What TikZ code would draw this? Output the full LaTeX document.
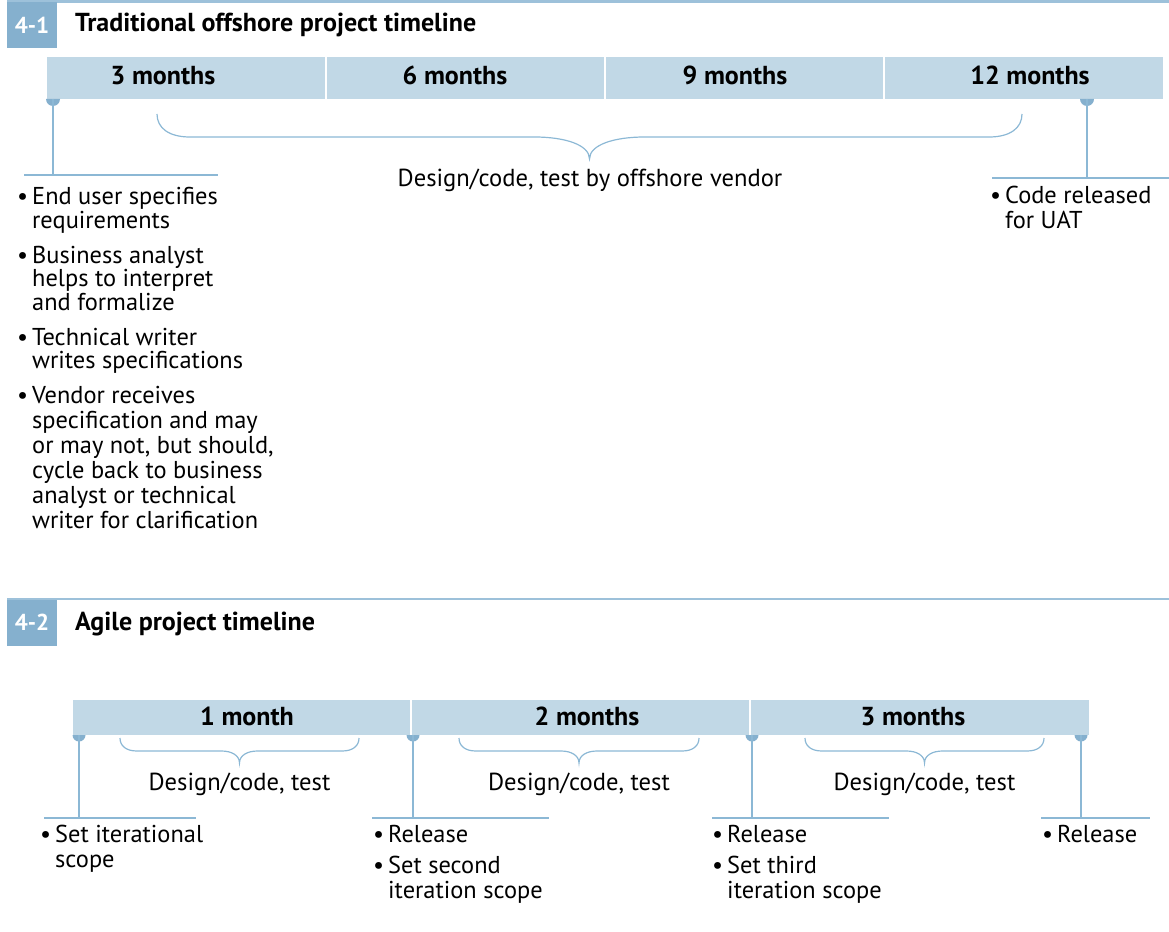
\documentclass[tikz,border=0pt]{standalone}
\usepackage{fontspec}
\setmainfont{PT Sans}
\definecolor{barfill}{HTML}{C1D8E6}
\definecolor{accent}{HTML}{85B0CE}
\definecolor{lineblue}{HTML}{8CB8D5}
\definecolor{topline}{HTML}{9DC1DA}
\newcommand\blk[2]{{\fontsize{24.4}{#1}\selectfont\begin{tabular}[t]{@{}l@{}}#2\end{tabular}}}
\newcommand\bul{\llap{\textbullet\hspace{4pt}}}
\newcommand\tlbrace[7]{%
 \draw[bracep] (#1,#3) .. controls (#1,{#3+0.6*(#4-#3)}) and ({#1+0.35*#6},#4) .. ({#1+#6},#4)
 -- ({(#1+#2)/2-#7},#4) .. controls ({(#1+#2)/2-0.45*#7},#4) and ({(#1+#2)/2},{#4+0.35*(#5-#4)}) .. ({(#1+#2)/2},#5)
 .. controls ({(#1+#2)/2},{#4+0.35*(#5-#4)}) and ({(#1+#2)/2+0.45*#7},#4) .. ({(#1+#2)/2+#7},#4)
 -- ({#2-#6},#4) .. controls ({#2-0.35*#6},#4) and (#2,{#3+0.6*(#4-#3)}) .. (#2,#3);}
\tikzset{
 conn/.style={draw=lineblue, line width=1.3pt},
 bracep/.style={draw=lineblue, line width=1.2pt},
 sep/.style={draw=white, line width=2pt},
 lbl/.style={font=\fontsize{26}{30}\selectfont\bfseries, inner sep=0, anchor=base},
 txt/.style={inner sep=0, anchor=base west},
 ctxt/.style={inner sep=0, anchor=base, font=\fontsize{24.6}{28}\selectfont},
 hdr/.style={fill=accent, text=white, font=\fontsize{23}{26}\selectfont\bfseries, inner sep=0, minimum width=50pt, minimum height=46pt},
 ttl/.style={font=\fontsize{26}{30}\selectfont\bfseries, inner sep=0, anchor=base west},
 marker/.style={fill=accent},
}
\begin{document}
\begin{tikzpicture}[x=1pt,y=-1pt]
\useasboundingbox (0,0) rectangle (1169,931);
% ---------- Section 4-1 ----------
\draw[topline, line width=3pt] (7,1.5) -- (1169,1.5);
\node[hdr] (h1) at (32,25) {4-1};
\node[ttl] (t1) at (75,32) {Traditional offshore project timeline};
\fill[barfill] (47,57) rectangle (1163,99);
\draw[sep] (326,57) -- (326,99);
\draw[sep] (605,57) -- (605,99);
\draw[sep] (884,57) -- (884,99);
\node[lbl] (m3) at (163,85) {3 months};
\node[lbl] (m6) at (455,85) {6 months};
\node[lbl] (m9) at (735,85) {9 months};
\node[lbl] (m12) at (1030,85) {12 months};
\coordinate (k1) at (53,99);
\coordinate (k1e) at (53,175);
\coordinate (k1l) at (24,175);
\coordinate (k1r) at (218,175);
\fill[marker] (46,99) arc (180:0:7) -- cycle;
\draw[conn] (k1) -- (k1e);
\draw[conn] (k1l) -- (k1r);
\coordinate (k2) at (1087,99);
\coordinate (k2e) at (1087,178);
\coordinate (k2l) at (992,178);
\coordinate (k2r) at (1169,178);
\fill[marker] (1080,99) arc (180:0:7) -- cycle;
\draw[conn] (k2) -- (k2e);
\draw[conn] (k2l) -- (k2r);
\tlbrace{157}{1022}{114}{137}{159}{33}{55}
\node[ctxt] (d1) at (590,186) {Design/code, test by offshore vendor};
\node[txt] (b11) at (32,204) {\blk{24}{\bul End user specifies\\requirements}};
\node[txt] (b12) at (32,263) {\blk{22}{\bul Business analyst\\helps to interpret\\and formalize}};
\node[txt] (b13) at (32,345) {\blk{22}{\bul Technical writer\\writes specifications}};
\node[txt] (b14) at (32,403) {\blk{25}{\bul Vendor receives\\specification and may\\or may not, but should,\\cycle back to business\\analyst or technical\\writer for clarification}};
\node[txt] (b15) at (1005,203) {\blk{25}{\bul Code released\\for UAT}};
% ---------- Section 4-2 ----------
\draw[topline, line width=2.5pt] (7,599) -- (1169,599);
\node[hdr] (h2) at (32,622.5) {4-2};
\node[ttl] (t2) at (75,630) {Agile project timeline};
\fill[barfill] (73,700) rectangle (1089,735);
\draw[sep] (411,700) -- (411,735);
\draw[sep] (750,700) -- (750,735);
\node[lbl] (n1) at (247,725) {1 month};
\node[lbl] (n2) at (587,725) {2 months};
\node[lbl] (n3) at (913,725) {3 months};
\foreach \x/\l/\r [count=\i] in {79/44/196, 413/372/549, 752/712/889, 1081/1041/1150}{
  \coordinate (p\i) at (\x,735);
  \coordinate (p\i e) at (\x,818);
  \coordinate (p\i l) at (\l,818);
  \coordinate (p\i r) at (\r,818);
  \fill[marker] ({\x-6.5},735) arc (180:0:6.5) -- cycle;
  \draw[conn] (p\i) -- (p\i e);
  \draw[conn] (p\i l) -- (p\i r);
}
\tlbrace{120}{359}{738}{751}{763}{17}{18}
\tlbrace{459}{699}{738}{751}{763}{17}{18}
\tlbrace{805}{1044}{738}{751}{763}{17}{18}
\node[ctxt] (e1) at (239.5,790) {Design/code, test};
\node[ctxt] (e2) at (579,790) {Design/code, test};
\node[ctxt] (e3) at (924.5,790) {Design/code, test};
\node[txt] (c1) at (55,842) {\blk{25}{\bul Set iterational\\scope}};
\node[txt] (c2) at (388,842) {\blk{25}{\bul Release}};
\node[txt] (c3) at (388,873) {\blk{25}{\bul Set second\\iteration scope}};
\node[txt] (c4) at (727,842) {\blk{25}{\bul Release}};
\node[txt] (c5) at (727,873) {\blk{25}{\bul Set third\\iteration scope}};
\node[txt] (c6) at (1057,842) {\blk{25}{\bul Release}};
\end{tikzpicture}
\end{document}
